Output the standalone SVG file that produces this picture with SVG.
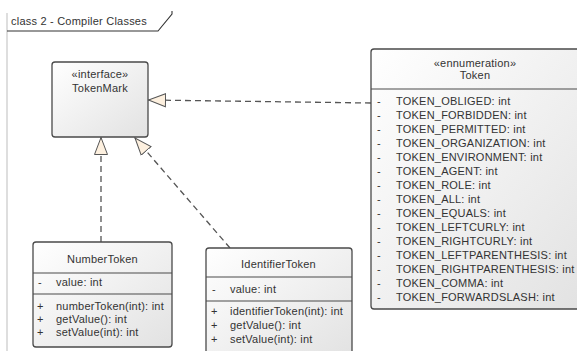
<svg xmlns="http://www.w3.org/2000/svg" width="577" height="351" viewBox="0 0 577 351">
<defs>
<linearGradient id="g" x1="0" y1="0" x2="1" y2="1">
<stop offset="0" stop-color="#ffffff"/>
<stop offset="1" stop-color="#e2e2e2"/>
</linearGradient>
<marker id="tri" markerUnits="userSpaceOnUse" markerWidth="20" markerHeight="16" refX="17.5" refY="7.5" orient="auto">
<path d="M0.5,1 L17.5,7.5 L0.5,14 Z" fill="#fdf0df" stroke="#555" stroke-width="1" stroke-dasharray="none"/>
</marker>
<style>
text{font-family:"Liberation Sans",Arial,sans-serif;font-size:11px;fill:#333;letter-spacing:0.22px}
.c{text-anchor:middle}
.box{fill:url(#g);stroke:#4a4a4a;stroke-width:1.3}
.sep{stroke:#4a4a4a;stroke-width:1.2}
.dep{fill:none;stroke:#555;stroke-width:1.3;stroke-dasharray:6,4;marker-end:url(#tri)}
</style>
</defs>
<rect width="577" height="351" fill="#fff"/>
<g id="frame">
<line x1="7" y1="13" x2="7" y2="351" stroke="#c8c8c8" stroke-width="1.2"/>
<path d="M7,31 L158,31 L172,14 L172,11" fill="none" stroke="#333" stroke-width="1.1"/>
<text x="11" y="25">class 2 - Compiler Classes</text>
</g>
<g id="connectors">
<path class="dep" d="M371,103 L148.5,100"/>
<path class="dep" d="M101,242 L101,137.5"/>
<path class="dep" d="M230,248 L135,138"/>
</g>
<g id="TokenMark">
<rect class="box" x="52" y="62" width="96" height="75" rx="3"/>
<text class="c" x="100" y="78">«interface»</text>
<text class="c" x="100" y="92">TokenMark</text>
</g>
<g id="Token">
<rect class="box" x="371" y="49" width="215" height="260" rx="3"/>
<line class="sep" x1="371" y1="89" x2="586" y2="89"/>
<text class="c" x="475" y="67">«ennumeration»</text>
<text class="c" x="475" y="79">Token</text>
<g>
<text x="377" y="105">-</text><text x="396" y="105">TOKEN_OBLIGED: int</text>
<text x="377" y="119">-</text><text x="396" y="119">TOKEN_FORBIDDEN: int</text>
<text x="377" y="133">-</text><text x="396" y="133">TOKEN_PERMITTED: int</text>
<text x="377" y="147">-</text><text x="396" y="147">TOKEN_ORGANIZATION: int</text>
<text x="377" y="161">-</text><text x="396" y="161">TOKEN_ENVIRONMENT: int</text>
<text x="377" y="175">-</text><text x="396" y="175">TOKEN_AGENT: int</text>
<text x="377" y="189">-</text><text x="396" y="189">TOKEN_ROLE: int</text>
<text x="377" y="203">-</text><text x="396" y="203">TOKEN_ALL: int</text>
<text x="377" y="217">-</text><text x="396" y="217">TOKEN_EQUALS: int</text>
<text x="377" y="231">-</text><text x="396" y="231">TOKEN_LEFTCURLY: int</text>
<text x="377" y="245">-</text><text x="396" y="245">TOKEN_RIGHTCURLY: int</text>
<text x="377" y="259">-</text><text x="396" y="259">TOKEN_LEFTPARENTHESIS: int</text>
<text x="377" y="273">-</text><text x="396" y="273">TOKEN_RIGHTPARENTHESIS: int</text>
<text x="377" y="287">-</text><text x="396" y="287">TOKEN_COMMA: int</text>
<text x="377" y="301">-</text><text x="396" y="301">TOKEN_FORWARDSLASH: int</text>
</g>
</g>
<g id="NumberToken">
<rect class="box" x="33" y="242" width="139" height="105" rx="3"/>
<line class="sep" x1="33" y1="273" x2="172" y2="273"/>
<line class="sep" x1="33" y1="294" x2="172" y2="294"/>
<text class="c" x="102.5" y="263">NumberToken</text>
<text x="38" y="286">-</text><text x="56" y="286">value: int</text>
<text x="37" y="310">+</text><text x="56" y="310">numberToken(int): int</text>
<text x="37" y="323">+</text><text x="56" y="323">getValue(): int</text>
<text x="37" y="336">+</text><text x="56" y="336">setValue(int): int</text>
</g>
<g id="IdentifierToken">
<rect class="box" x="206" y="248" width="146" height="110" rx="3"/>
<line class="sep" x1="206" y1="277" x2="352" y2="277"/>
<line class="sep" x1="206" y1="301" x2="352" y2="301"/>
<text class="c" x="278.5" y="268">IdentifierToken</text>
<text x="212" y="293">-</text><text x="230" y="293">value: int</text>
<text x="211" y="315">+</text><text x="230" y="315">identifierToken(int): int</text>
<text x="211" y="329">+</text><text x="230" y="329">getValue(): int</text>
<text x="211" y="343">+</text><text x="230" y="343">setValue(int): int</text>
</g>
</svg>
